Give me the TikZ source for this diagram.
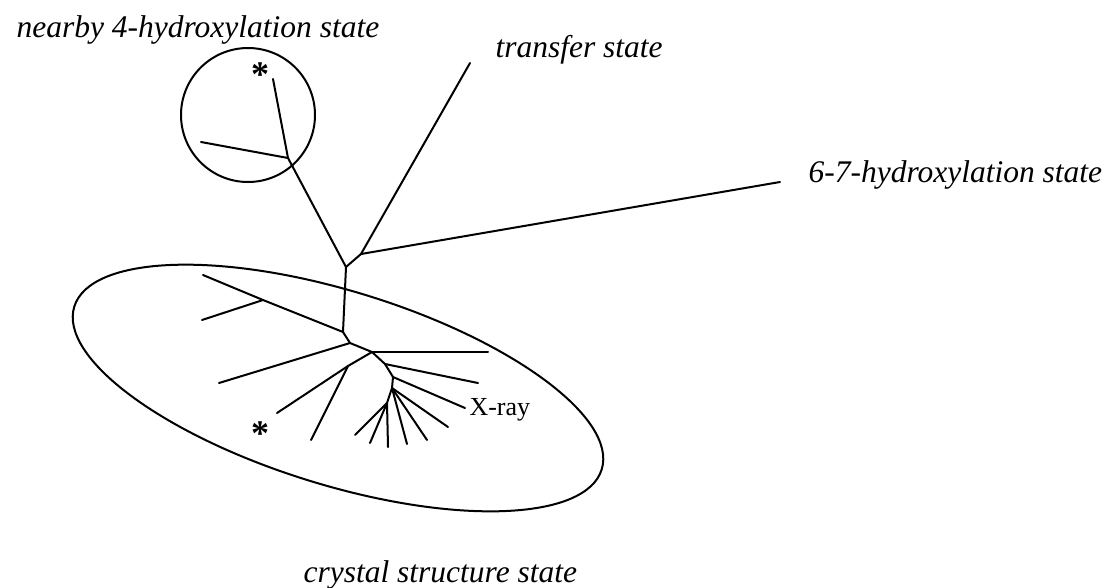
\documentclass[tikz,border=0pt]{standalone}
\usepackage{fontspec}
\setmainfont{Liberation Serif}
\usetikzlibrary{shapes.geometric}

\begin{document}
\begin{tikzpicture}[x=1pt,y=-1pt,
    every node/.style={font=\fontsize{31.5}{36}\selectfont},
    branch/.style={line width=2pt, line cap=round, line join=round},
    statelabel/.style={anchor=base west, font=\fontsize{31.5}{36}\selectfont\itshape},
    mark star/.style={anchor=base, inner sep=0pt, font=\fontsize{36}{40}\selectfont\bfseries},
    group/.style={draw, line width=2pt, inner sep=0pt}]
    \useasboundingbox (0,0) rectangle (1113,587);
    % groups
    \node[group, circle, minimum size=134pt] (nearby) at (248,115) {};
    \node[group, ellipse, rotate=-17.15, minimum width=552pt, minimum height=194pt] (crystal) at (338,388) {};
    % tree points
    \coordinate (tip4) at (273,79);
    \coordinate (n4) at (288,158);
    \coordinate (leaf4) at (201,142);
    \coordinate (root) at (346,267);
    \coordinate (nT) at (361,254);
    \coordinate (tipT) at (470,63);
    \coordinate (tip67) at (780,182);
    \coordinate (nC) at (343,332);
    \coordinate (nC1) at (263,300);
    \coordinate (leafC1) at (203,275);
    \coordinate (leafC2) at (202,320);
    \coordinate (nD) at (350,343);
    \coordinate (leafD) at (219,383);
    \coordinate (nE) at (372,352);
    \coordinate (leafE) at (488,352);
    \coordinate (nF) at (348,366);
    \coordinate (leafF1) at (277,413);
    \coordinate (leafF2) at (311,440);
    \coordinate (nG) at (385,364);
    \coordinate (leafG) at (478,383);
    \coordinate (nH) at (393,377);
    \coordinate (leafH) at (465,408);
    \coordinate (nI) at (392,388);
    \coordinate (leafI1) at (448,427);
    \coordinate (leafI2) at (427,440);
    \coordinate (leafI3) at (407,444);
    \coordinate (nJ) at (387,403);
    \coordinate (leafJ1) at (388,447);
    \coordinate (leafJ2) at (370,443);
    \coordinate (leafJ3) at (355,435);
    % branches
    \draw[branch] (tip4) -- (n4) -- (root) -- (nC) -- (nD) -- (nE) -- (nG) -- (nH) -- (nI) -- (nJ);
    \draw[branch] (leaf4) -- (n4);
    \draw[branch] (root) -- (nT) -- (tipT);
    \draw[branch] (nT) -- (tip67);
    \draw[branch] (nC) -- (nC1) -- (leafC1);
    \draw[branch] (nC1) -- (leafC2);
    \draw[branch] (nD) -- (leafD);
    \draw[branch] (nE) -- (leafE);
    \draw[branch] (nE) -- (nF) -- (leafF1);
    \draw[branch] (nF) -- (leafF2);
    \draw[branch] (nG) -- (leafG);
    \draw[branch] (nH) -- (leafH);
    \draw[branch] (nI) -- (leafI1);
    \draw[branch] (nI) -- (leafI2);
    \draw[branch] (nI) -- (leafI3);
    \draw[branch] (nJ) -- (leafJ1);
    \draw[branch] (nJ) -- (leafJ2);
    \draw[branch] (nJ) -- (leafJ3);
    % labels
    \node[statelabel] (lab4) at (13,37) {nearby 4-hydroxylation state};
    \node[statelabel] (labT) at (492,57) {transfer state};
    \node[statelabel] (lab67) at (805,182) {6-7-hydroxylation state};
    \node[statelabel] (labC) at (300,582) {crystal structure state};
    \node[anchor=base west, font=\fontsize{26}{30}\selectfont] (xray) at (466,415) {X-ray};
    \node[mark star] (star1) at (260,86) {*};
    \node[mark star] (star2) at (260,445) {*};
\end{tikzpicture}
\end{document}
